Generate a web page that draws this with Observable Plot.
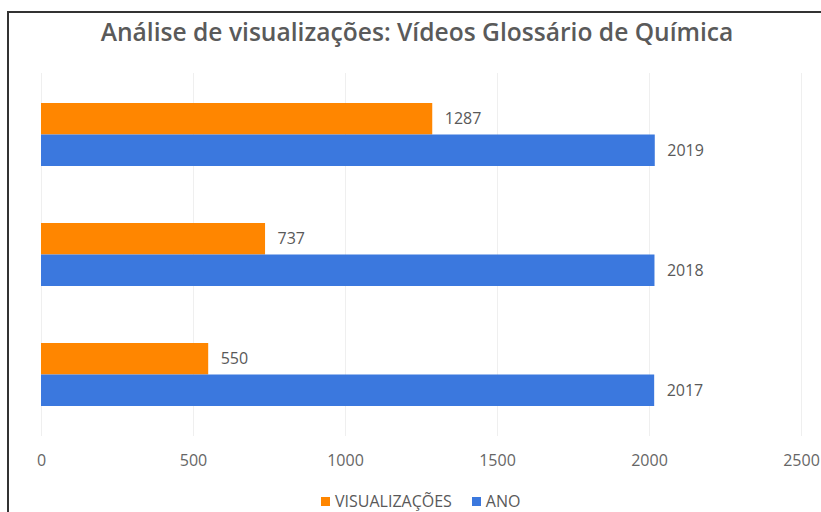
<!DOCTYPE html>
<html>
<head>
<meta charset="utf-8">
<script src="https://cdn.jsdelivr.net/npm/d3@7"></script>
<script src="https://cdn.jsdelivr.net/npm/@observablehq/plot@0.6"></script>
<style>
  html, body { margin: 0; padding: 0; background: #fff; }
  #wrap { position: relative; width: 821px; height: 512px; overflow: hidden; background: #fff; font-family: "Open Sans", sans-serif; }
  #frame { position: absolute; left: 7px; top: 11px; width: 900px; height: 600px; border-top: 2px solid #333; border-left: 2px solid #333; }
  #title { position: absolute; left: 0; width: 834px; top: 17px; text-align: center; font-size: 24.6px; line-height: 30px; font-weight: 600; color: #5a5a5a; white-space: nowrap; }
  #chart { position: absolute; left: 0; top: 0; }
  #legend { position: absolute; left: 321px; top: 491px; height: 20px; display: flex; align-items: center; font-size: 16px; color: #595959; white-space: nowrap; }
  .sw { display: inline-block; width: 9px; height: 9px; margin-right: 5px; }
  .item { display: flex; align-items: center; margin-right: 20px; }
</style>
</head>
<body>
<div id="wrap">
  <div id="frame"></div>
  <div id="chart"></div>
  <div id="title">Análise de visualizações: Vídeos Glossário de Química</div>
  <div id="legend"></div>
</div>
<script>
const anos = ["2019", "2018", "2017"];
const visualizacoes = [1287, 737, 550];
const anoValores = [2019, 2018, 2017];
const xTicks = [0, 500, 1000, 1500, 2000, 2500];
const seriesNames = ["VISUALIZAÇÕES", "ANO"];
const seriesColors = ["#ff8600", "#3b78de"];

const rowsVis = anos.map((a, i) => ({ano: a, value: visualizacoes[i]}));
const rowsAno = anos.map((a, i) => ({ano: a, value: anoValores[i]}));

const half = 31.5;
const chart = Plot.plot({
  width: 821,
  height: 480,
  marginLeft: 41,
  marginRight: 20,
  marginTop: 73,
  marginBottom: 44,
  style: {fontFamily: "Open Sans, sans-serif", fontSize: "16px", color: "#666", background: "transparent"},
  x: {domain: [0, 2500], ticks: xTicks, tickSize: 0, tickPadding: 18, label: null, tickFormat: d => String(d)},
  y: {domain: anos, paddingInner: 0.479, paddingOuter: 0.2397, axis: null},
  marks: [
    Plot.gridX(xTicks, {stroke: "#efefef", strokeOpacity: 1}),
    Plot.barX(rowsVis, {x: "value", y: "ano", fill: seriesColors[0], insetBottom: half}),
    Plot.barX(rowsAno, {x: "value", y: "ano", fill: seriesColors[1], insetTop: half}),
    Plot.text(rowsVis, {x: "value", y: "ano", text: d => String(d.value), dx: 12, dy: -half / 2, textAnchor: "start", fill: "#595959", fontSize: 16}),
    Plot.text(rowsAno, {x: "value", y: "ano", text: d => String(d.value), dx: 12, dy: half / 2, textAnchor: "start", fill: "#595959", fontSize: 16})
  ]
});
document.getElementById("chart").appendChild(chart);

const legend = document.getElementById("legend");
seriesNames.forEach((n, i) => {
  const it = document.createElement("span");
  it.className = "item";
  const sw = document.createElement("span");
  sw.className = "sw";
  sw.style.background = seriesColors[i];
  it.appendChild(sw);
  it.appendChild(document.createTextNode(n));
  legend.appendChild(it);
});
</script>
</body>
</html>
